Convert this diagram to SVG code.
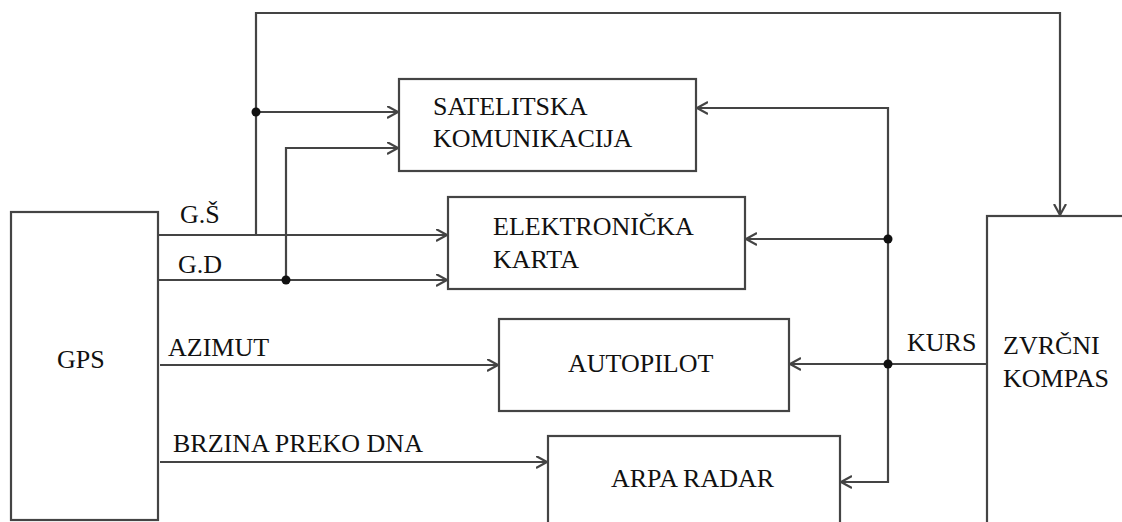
<svg xmlns="http://www.w3.org/2000/svg" width="1122" height="522" viewBox="0 0 1122 522">
  <style>
    .box { fill: #ffffff; stroke: #444444; stroke-width: 2.2; }
    .ln { fill: none; stroke: #444444; stroke-width: 2.2; }
    .arr { marker-end: url(#chev); }
    .dot { fill: #111111; }
  </style>
  <defs>
    <marker id="chev" markerUnits="userSpaceOnUse" markerWidth="14" markerHeight="14" refX="11" refY="6.5" orient="auto">
      <path d="M0,0.5 L11,6.5 L0,12.5" fill="none" stroke="#444444" stroke-width="2.2"/>
    </marker>
  </defs>
  <rect width="1122" height="522" fill="#ffffff"/>

  <g id="connectors">
    <line class="ln arr" x1="158" y1="235" x2="447" y2="235"/>
    <polyline class="ln arr" points="256,235 256,13 1060,13 1060,215"/>
    <line class="ln arr" x1="256" y1="112" x2="398" y2="112"/>
    <circle class="dot" cx="256" cy="112" r="4.5"/>
    <line class="ln arr" x1="158" y1="280" x2="447" y2="280"/>
    <polyline class="ln arr" points="286,280 286,148 398,148"/>
    <circle class="dot" cx="286" cy="280" r="4.5"/>
    <line class="ln arr" x1="160" y1="365" x2="498" y2="365"/>
    <line class="ln arr" x1="160" y1="462" x2="547" y2="462"/>
    <line class="ln arr" x1="987" y1="364" x2="790" y2="364"/>
    <polyline class="ln arr" points="888,239 888,108 697,108"/>
    <line class="ln arr" x1="888" y1="239" x2="746" y2="239"/>
    <polyline class="ln arr" points="888,239 888,482 841,482"/>
    <circle class="dot" cx="888" cy="239" r="4.5"/>
    <circle class="dot" cx="888" cy="364" r="4.5"/>
  </g>

  <g font-family="'Liberation Serif', 'DejaVu Serif', serif" font-size="26" fill="#111111">
    <g id="gps">
      <rect class="box" x="11" y="212" width="147" height="308"/>
      <text x="57" y="368">GPS</text>
    </g>
    <g id="satelitska">
      <rect class="box" x="399" y="79" width="297" height="92"/>
      <text x="433" y="115">SATELITSKA</text>
      <text x="433" y="147">KOMUNIKACIJA</text>
    </g>
    <g id="elektronicka">
      <rect class="box" x="448" y="197" width="297" height="92"/>
      <text x="493" y="235">ELEKTRONIČKA</text>
      <text x="493" y="268">KARTA</text>
    </g>
    <g id="autopilot">
      <rect class="box" x="499" y="319" width="290" height="92"/>
      <text x="568" y="372">AUTOPILOT</text>
    </g>
    <g id="arpa">
      <rect class="box" x="548" y="436" width="292" height="100"/>
      <text x="611" y="487">ARPA RADAR</text>
    </g>
    <g id="kompas">
      <rect class="box" x="987" y="216" width="150" height="320"/>
      <text x="1003" y="354">ZVRČNI</text>
      <text x="1003" y="387">KOMPAS</text>
    </g>
    <g id="labels">
      <text x="180" y="223">G.Š</text>
      <text x="178" y="273">G.D</text>
      <text x="168" y="356">AZIMUT</text>
      <text x="173" y="452">BRZINA PREKO DNA</text>
      <text x="907" y="351">KURS</text>
    </g>
  </g>
</svg>
